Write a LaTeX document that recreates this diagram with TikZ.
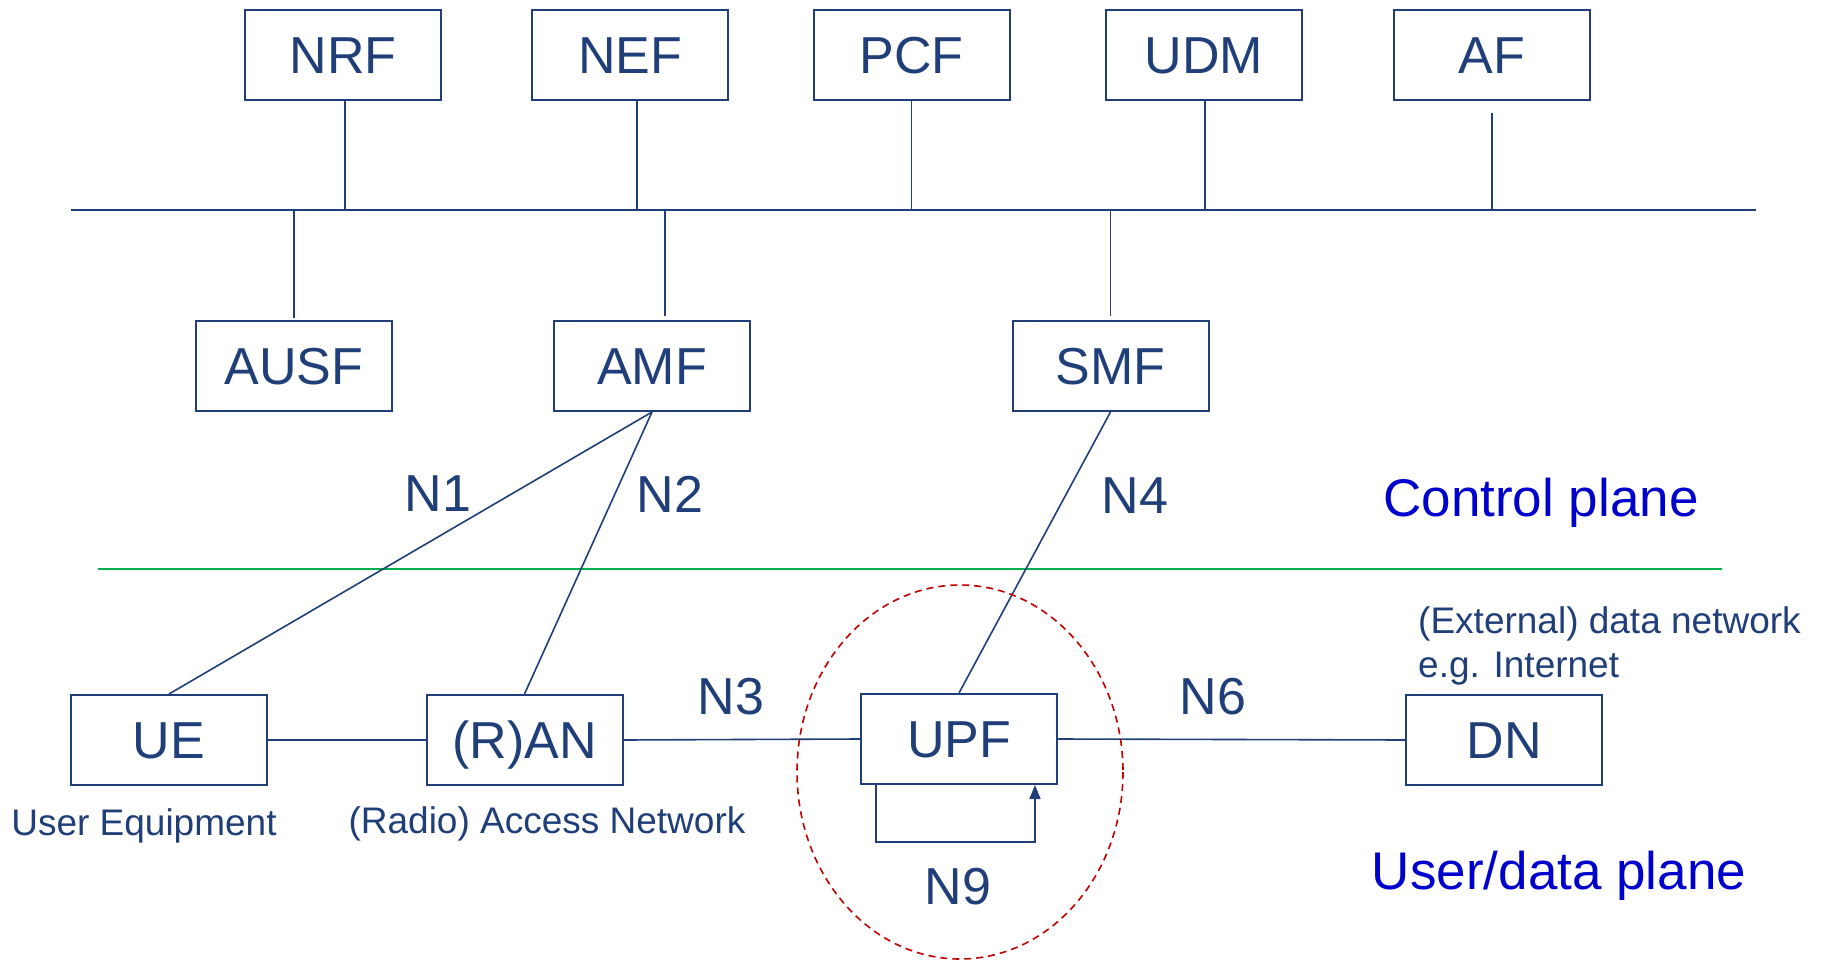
\documentclass[tikz,border=0pt]{standalone}
\usepackage{fontspec}
\setmainfont{Liberation Sans}
\usetikzlibrary{arrows.meta,calc}
\definecolor{nfblue}{HTML}{203F78}
\definecolor{planeblue}{HTML}{0000CC}
\definecolor{divgreen}{HTML}{00B050}
\definecolor{ringred}{HTML}{C00000}
\tikzset{
  nfbox/.style={draw=nfblue, line width=2pt, minimum width=196pt, minimum height=90pt, inner sep=0pt,
    text=nfblue, font=\fontsize{52}{60}\selectfont, text height=37pt, text depth=0pt},
  link/.style={draw=nfblue, line width=1.6pt},
  ifl/.style={text=nfblue, font=\fontsize{52}{60}\selectfont, inner sep=0pt},
  desc/.style={text=nfblue, font=\fontsize{37}{44}\selectfont, inner sep=0pt},
  plane/.style={text=planeblue, font=\fontsize{53}{62}\selectfont, inner sep=0pt}
}
\begin{document}
\begin{tikzpicture}[x=1pt,y=-1pt]
\useasboundingbox (0,0) rectangle (1826,960);
% top NFs
\node[nfbox] (NRF) at (343,55) {NRF};
\node[nfbox] (NEF) at (630,55) {NEF};
\node[nfbox] (PCF) at (911.5,55) {PCF};
\node[nfbox] (UDM) at (1204,55) {UDM};
\node[nfbox] (AF)  at (1492,55) {AF};
% middle NFs
\node[nfbox] (AUSF) at (294,366) {AUSF};
\node[nfbox] (AMF)  at (652,366) {AMF};
\node[nfbox] (SMF)  at (1110.5,366) {SMF};
% bus
\coordinate (busL) at (71,210);
\coordinate (busR) at (1756,210);
\draw[link, line width=2.4pt] (busL) -- (busR);
\draw[link] ([xshift=2pt]NRF.south) -- ([xshift=2pt]NRF.south |- busL);
\draw[link] ([xshift=7pt]NEF.south) -- ([xshift=7pt]NEF.south |- busL);
\draw[link] (PCF.south) -- (PCF.south |- busL);
\draw[link] ([xshift=1pt]UDM.south) -- ([xshift=1pt]UDM.south |- busL);
\draw[link] ([yshift=-12pt]AF.south) -- (AF.south |- busL);
\draw[link] ([yshift=2pt]AUSF.north) -- (AUSF.north |- busL);
\draw[link] ([xshift=13pt,yshift=4pt]AMF.north) -- ([xshift=13pt]AMF.north |- busL);
\draw[link] ([yshift=4pt]SMF.north) -- (SMF.north |- busL);
% plane separator
\coordinate (gL) at (98,569);
\coordinate (gR) at (1722,569);
\draw[divgreen, line width=2.2pt] (gL) -- (gR);
% user plane nodes
\node[nfbox] (UE)  at (169,740) {UE};
\node[nfbox] (RAN) at (524.5,740) {(R)AN};
\node[nfbox] (UPF) at (959,739) {UPF};
\node[nfbox] (DN)  at (1504,740) {DN};
% connectors
\draw[link] (AMF.south) -- (UE.north);
\draw[link] (AMF.south) -- (RAN.north);
\draw[link] (SMF.south) -- (UPF.north);
\draw[link] (UE.east) -- (RAN.west);
\draw[link] (RAN.east) -- (UPF.west);
\draw[link] (UPF.east) -- (DN.west);
% N9 loop
\coordinate (n9a) at ($(UPF.south west)+(16,0)$);
\coordinate (n9b) at ($(UPF.south east)+(-23,0)$);
\draw[link, -{Triangle[length=14pt,width=11pt]}] (n9a) -- (n9a |- 0,842) -- (n9b |- 0,842) -- (n9b);
% dashed ring
\draw[ringred, line width=1.6pt, dash pattern=on 7pt off 5pt] (960,772) ellipse [x radius=163, y radius=187];
% interface labels
\node[ifl] (N1) at (438,494) {N1};
\node[ifl] (N2) at (670,494) {N2};
\node[ifl] (N4) at (1135,496) {N4};
\node[ifl] (N3) at (731,697) {N3};
\node[ifl] (N6) at (1213,697) {N6};
\node[ifl] (N9) at (958,887) {N9};
% descriptions
\node[desc] (ueD) at (144,826) {User Equipment};
\node[desc] (ranD) at (547,824) {(Radio) Access Network};
\node[desc, anchor=west, align=left] (dnD) at (1418,646) {(External) data network\\e.g. Internet};
% plane labels
\node[plane] (cp) at (1541,503) {Control plane};
\node[plane] (up) at (1559,876) {User/data plane};
\end{tikzpicture}
\end{document}
